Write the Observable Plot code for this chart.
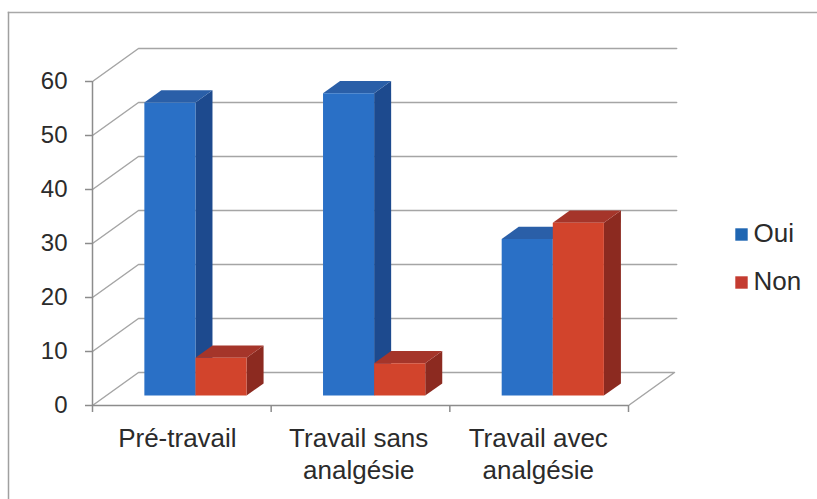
<!DOCTYPE html>
<html>
<head>
<meta charset="utf-8">
<script src="https://cdn.jsdelivr.net/npm/d3@7"></script>
<script src="https://cdn.jsdelivr.net/npm/@observablehq/plot@0.6"></script>
<style>html,body{margin:0;padding:0;background:#fff}svg{display:block}</style>
</head>
<body>
<div id="chart"></div>
<script>
const categories = ["Pré-travail", "Travail sans\nanalgésie", "Travail avec\nanalgésie"];
const labelPositions = [0.475, 1.49, 2.495];
const oui = [54.3, 56, 29];
const non = [7, 6, 32];
const yTicks = [0, 10, 20, 30, 40, 50, 60];
const xTicks = [0, 1, 2, 3];
const seriesNames = ["Oui", "Non"];
const faces = {
  Oui: {front: "#2a70c6", top: "#2a5fa8", side: "#1d4a8e", key: "#1f66b2"},
  Non: {front: "#d2442c", top: "#a5352a", side: "#8c2a20", key: "#c43b30"}
};
// Oblique projection: depth 0..1 shifts a point along the floor diagonal.
const wallDx = 0.2575, wallDy = 6.11;
const gridRows = [];
yTicks.forEach(v => {
  gridRows.push({id: v, x: 0, y: v});
  gridRows.push({id: v, x: wallDx, y: v + wallDy});
  gridRows.push({id: v, x: 3 + wallDx + (v === 0 ? 0 : 0.012), y: v + wallDy});
  if (v === 0) gridRows.push({id: v, x: 3, y: 0});
});
const barW = 0.286, start = 0.213, d0 = 0.30, d1 = 0.67;
const polys = [];
categories.forEach((c, i) => {
  [["Oui", oui[i], 0], ["Non", non[i], 1]].forEach(([s, v, k]) => {
    const xa = i + start + k * barW, xb = xa + barW;
    const P = (x, y, d) => ({x: x + d * wallDx, y: y + d * wallDy});
    const add = (name, pts) => pts.forEach(p => polys.push({id: `${i}-${s}-${name}`, fill: faces[s][name], ...p}));
    add("side", [P(xb, 0, d0), P(xb, 0, d1), P(xb, v, d1), P(xb, v, d0)]);
    add("top", [P(xa, v, d0), P(xb, v, d0), P(xb, v, d1), P(xa, v, d1)]);
    add("front", [P(xa, 0, d0), P(xb, 0, d0), P(xb, v, d0), P(xa, v, d0)]);
  });
});
const labels = categories.map((c, i) => ({x: labelPositions[i], label: c}));
const legendRows = seriesNames.map((s, i) => ({s, row: i}));
const font = "'Liberation Sans', Arial, sans-serif";
const ink = "#2b2b2b", axisGrey = "#8c8c8c";

const plot = Plot.plot({
  width: 817, height: 499,
  margin: 0,
  style: {fontFamily: font, background: "#fff", color: ink},
  x: {type: "linear", domain: [0, 3], range: [92, 628], axis: null},
  y: {type: "linear", domain: [0, 60], range: [405, 81], axis: null},
  marks: [
    Plot.frame({anchor: "top", insetTop: 12, insetLeft: 8, stroke: "#a8a8a8", strokeWidth: 1.5}),
    Plot.frame({anchor: "left", insetLeft: 8, insetTop: 12, stroke: "#a0a0a0", strokeWidth: 1.5}),
    Plot.line(gridRows, {x: "x", y: "y", z: "id", stroke: "#a5a5a5", strokeWidth: 1.5}),
    Plot.line(polys, {x: "x", y: "y", z: "id", fill: "fill", stroke: "none"}),
    Plot.ruleX([0], {y1: 0, y2: 60, stroke: axisGrey, strokeWidth: 1.5}),
    Plot.ruleY([0], {x1: 0, x2: 3, stroke: axisGrey, strokeWidth: 1.5}),
    Plot.ruleY(yTicks, {x1: 0, x2: 0, insetLeft: -7, stroke: axisGrey, strokeWidth: 1.5}),
    Plot.ruleX(xTicks, {y1: 0, y2: 0, insetBottom: -7, stroke: axisGrey, strokeWidth: 1.5}),
    Plot.text(yTicks, {x: 0, y: d => d, text: d => String(d), dx: -25, textAnchor: "end", lineAnchor: "middle", fontSize: 24, fill: ink}),
    Plot.text(labels, {x: "x", y: 0, text: "label", dy: 19, lineAnchor: "top", fontSize: 26, lineHeight: 1.22, fill: ink, textAnchor: "middle"}),
    ...legendRows.map(d => Plot.dot([d], {frameAnchor: "top-left", dx: 741, dy: 234 + d.row * 48, symbol: "square", r: 7, fill: faces[d.s].key})),
    ...legendRows.map(d => Plot.text([d], {frameAnchor: "top-left", dx: 753, dy: 233 + d.row * 48, text: "s", textAnchor: "start", lineAnchor: "middle", fontSize: 26, fill: ink}))
  ]
});
document.getElementById("chart").appendChild(plot);
</script>
</body>
</html>
